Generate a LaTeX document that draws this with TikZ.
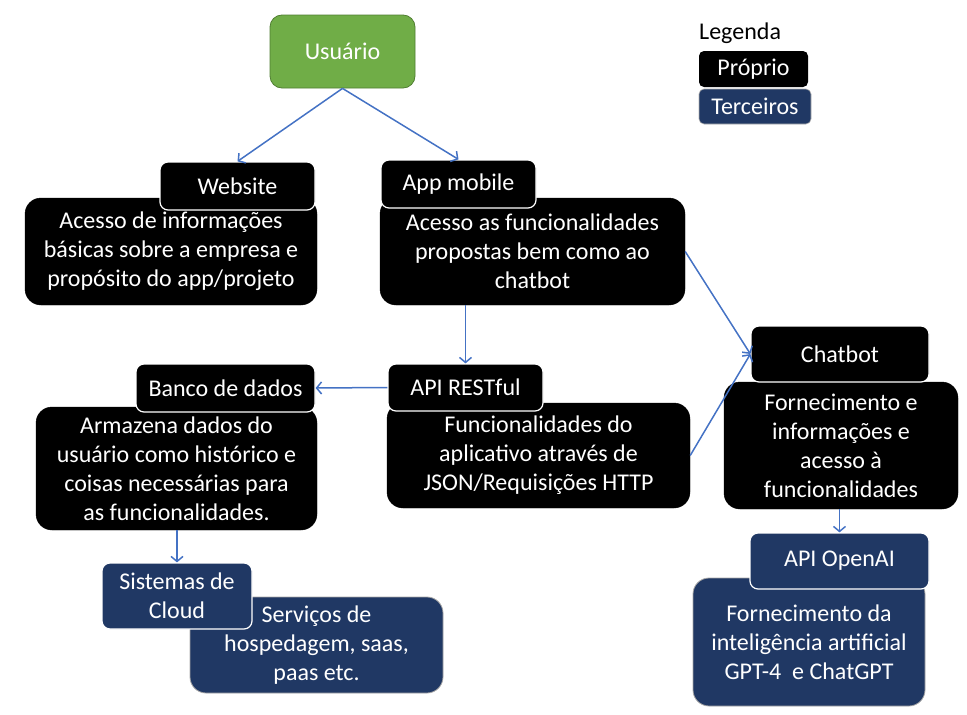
\documentclass[tikz,border=0pt]{standalone}
\usepackage{fontspec}
\setmainfont{Carlito}
\usetikzlibrary{arrows.meta}
\definecolor{navy}{HTML}{203864}
\definecolor{usrgreen}{HTML}{70AD47}
\definecolor{usrborder}{HTML}{507E32}
\definecolor{arrowblue}{HTML}{4472C4}
\tikzset{
  txt/.style={font=\fontsize{24}{29}\selectfont, align=center, inner sep=0pt},
  ownbody/.style={txt, fill=black, draw=black, text=white, rounded corners=16pt},
  ownlabel/.style={txt, fill=black, draw=white, line width=1.2pt, text=white, rounded corners=8pt},
  navybody/.style={txt, fill=navy, draw=gray!70, line width=0.8pt, text=white, rounded corners=16pt},
  navylabel/.style={txt, fill=navy, draw=white, line width=1.2pt, text=white, rounded corners=8pt},
  legbox/.style={txt, text=white, rounded corners=5pt},
  conn/.style={draw=arrowblue, line width=1.5pt, -{Straight Barb[length=5pt,width=12pt,line width=1.5pt]}}
}
\begin{document}
\begin{tikzpicture}[x=1pt,y=-1pt]
\useasboundingbox (0,0) rectangle (967,715);

% Usuario
\node[txt, fill=usrgreen, draw=usrborder, line width=0.8pt, text=white, rounded corners=12pt,
      minimum width=145pt, minimum height=73pt] (usr) at (342.5,51.5) {Usuário};

% Website
\node[ownbody, minimum width=292pt, minimum height=107pt] (webb) at (171,251.5)
  {Acesso de informações\\básicas sobre a empresa e\\propósito do app/projeto};
\node[ownlabel, minimum width=155pt, minimum height=48pt] (webl) at (237.5,186) {Website};

% App mobile
\node[ownbody, minimum width=305pt, minimum height=107pt] (appb) at (532.5,251.5)
  {Acesso as funcionalidades\\propostas bem como ao\\chatbot};
\node[ownlabel, minimum width=155pt, minimum height=48pt] (appl) at (458.5,184) {App mobile};

% API RESTful
\node[ownbody, minimum width=303pt, minimum height=105pt] (apib) at (538.5,455.5)
  {Funcionalidades do\\aplicativo através de\\JSON/Requisições HTTP};
\node[ownlabel, minimum width=155pt, minimum height=47pt] (apil) at (465.5,387.5) {API RESTful};

% Banco de dados
\node[ownbody, minimum width=281pt, minimum height=123pt] (banb) at (176.5,468.5)
  {Armazena dados do\\usuário como histórico e\\coisas necessárias para\\as funcionalidades.};
\node[ownlabel, minimum width=179pt, minimum height=48pt] (banl) at (225.5,388) {Banco de dados};

% Sistemas de Cloud
\node[navybody, minimum width=253pt, minimum height=96pt] (cloudb) at (316.5,645)
  {Serviços de\\hospedagem, saas,\\paas etc.};
\node[navylabel, minimum width=150pt, minimum height=66pt] (cloudl) at (177,596) {Sistemas de\\Cloud};

% Chatbot
\node[ownbody, minimum width=234pt, minimum height=127pt] (chatb) at (841,445.5)
  {Fornecimento e\\informações e\\acesso à\\funcionalidades};
\node[ownlabel, minimum width=178pt, minimum height=56pt] (chatl) at (840,354) {Chatbot};

% API OpenAI
\node[navybody, minimum width=232pt, minimum height=128pt] (openb) at (809,642)
  {Fornecimento da\\inteligência artificial\\GPT-4~ e ChatGPT};
\node[navylabel, minimum width=179pt, minimum height=56pt] (openl) at (839.5,561) {API OpenAI};

% Legend
\node[txt, anchor=west, text=black] (leg) at (699,33) {Legenda};
\node[legbox, fill=black, minimum width=109pt, minimum height=36pt] (legown) at (753.5,69) {Próprio};
\node[legbox, fill=navy, draw=gray!60, line width=0.6pt, minimum width=112pt, minimum height=35pt] (legthird) at (755,106.5) {Terceiros};

% Connectors
\draw[conn] (usr.south) -- (webl.north);
\draw[conn] (usr.south) -- (appl.north);
\draw[conn] (apil.north |- appb.south) -- (apil.north);
\draw[conn] (apil.west) -- (banl.east);
\draw[conn] (cloudl.north |- banb.south) -- (cloudl.north);
\draw[conn] (appb.east) -- (chatl.west);
\draw[conn] (apib.east) -- (chatl.west);
\draw[conn] (openl.north |- chatb.south) -- (openl.north);
\end{tikzpicture}
\end{document}
